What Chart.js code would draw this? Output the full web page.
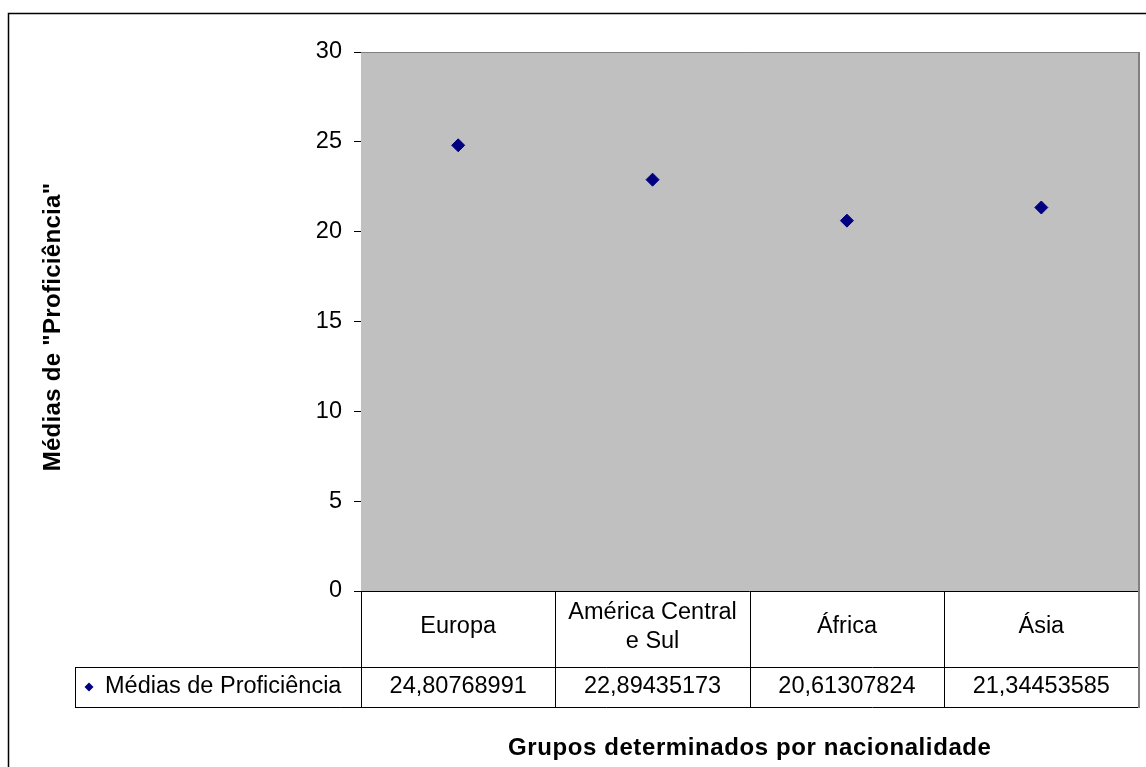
<!DOCTYPE html>
<html lang="pt">
<head>
    <meta charset="UTF-8">
    <title>Médias de Proficiência por nacionalidade</title>
    <script src="https://cdn.jsdelivr.net/npm/chart.js"></script>
    <style>
        html, body { margin: 0; padding: 0; background: #ffffff; }
        #wrap { position: relative; width: 1146px; height: 767px; }
    </style>
</head>
<body>
    <div id="wrap">
        <canvas id="mediasChart"></canvas>
    </div>

    <script>
        // Categories (two-line labels as arrays) and series values
        const grupos = [['Europa'], ['América Central', 'e Sul'], ['África'], ['Ásia']];
        const grupoNomes = ['Europa', 'América Central e Sul', 'África', 'Ásia'];
        const mediasProficiencia = [24.80768991, 22.89435173, 20.61307824, 21.34453585];
        const serieNome = 'Médias de Proficiência';
        const yTicks = [0, 5, 10, 15, 20, 25, 30];

        const FONT = 'Liberation Sans, Arial, sans-serif';
        const NAVY = '#000080';

        function fmtValor(v) {
            return v.toFixed(8).replace('.', ',');
        }

        // Grey plot background, chart frame, data table and axis titles
        const excelFrame = {
            id: 'excelFrame',
            beforeDatasetsDraw(chart) {
                const { ctx, chartArea: a } = chart;
                ctx.save();
                ctx.fillStyle = '#c0c0c0';
                ctx.fillRect(a.left, a.top, a.right - a.left, a.bottom - a.top);
                ctx.strokeStyle = '#808080';
                ctx.lineWidth = 1;
                ctx.beginPath();
                ctx.moveTo(a.left, a.top + 0.5);
                ctx.lineTo(a.right, a.top + 0.5);
                ctx.stroke();
                ctx.restore();
            },
            afterDraw(chart) {
                const { ctx, chartArea: a, scales } = chart;
                const x = scales.x;
                const colW = (a.right - a.left) / grupos.length;
                const row1Bottom = a.bottom + 76;
                const row2Bottom = row1Bottom + 40;
                const legendLeft = 75;

                ctx.save();

                // outer chart frame
                ctx.strokeStyle = '#000';
                ctx.lineWidth = 1.5;
                ctx.beginPath();
                ctx.moveTo(8.5, 780);
                ctx.lineTo(8.5, 13.5);
                ctx.lineTo(1160, 13.5);
                ctx.stroke();

                // table grid
                ctx.lineWidth = 1;
                ctx.strokeStyle = '#000';
                ctx.beginPath();
                ctx.moveTo(a.left, Math.round(a.bottom) + 0.5);
                ctx.lineTo(a.right, Math.round(a.bottom) + 0.5);
                for (let i = 0; i < grupos.length; i++) {
                    const left = Math.round(a.left + i * colW) + 0.5;
                    ctx.moveTo(left, a.bottom);
                    ctx.lineTo(left, row2Bottom);
                }
                ctx.moveTo(legendLeft + 0.5, row1Bottom);
                ctx.lineTo(legendLeft + 0.5, row2Bottom);
                ctx.moveTo(legendLeft, row1Bottom + 0.5);
                ctx.lineTo(a.right, row1Bottom + 0.5);
                ctx.moveTo(legendLeft, row2Bottom + 0.5);
                ctx.lineTo(a.right, row2Bottom + 0.5);
                ctx.stroke();

                // right edge of plot and table
                ctx.strokeStyle = '#808080';
                ctx.lineWidth = 2;
                ctx.beginPath();
                ctx.moveTo(a.right + 0.5, a.top);
                ctx.lineTo(a.right + 0.5, row2Bottom + 1);
                ctx.stroke();

                // category labels and values
                ctx.fillStyle = '#000';
                ctx.font = '23.5px ' + FONT;
                ctx.textAlign = 'center';
                ctx.textBaseline = 'middle';
                const mid1 = (a.bottom + row1Bottom) / 2 - 2;
                const mid2 = (row1Bottom + row2Bottom) / 2;
                grupos.forEach((linhas, i) => {
                    const cx = x.getPixelForValue(i);
                    const lh = 29;
                    const y0 = mid1 - (linhas.length - 1) * lh / 2;
                    linhas.forEach((t, j) => ctx.fillText(t, cx, y0 + j * lh));
                    ctx.fillText(fmtValor(mediasProficiencia[i]), cx, mid2);
                });

                // series legend key
                ctx.textAlign = 'left';
                ctx.fillText(serieNome, 105, mid2);
                ctx.fillStyle = NAVY;
                ctx.beginPath();
                ctx.moveTo(89, mid2 - 4.5);
                ctx.lineTo(93.5, mid2);
                ctx.lineTo(89, mid2 + 4.5);
                ctx.lineTo(84.5, mid2);
                ctx.closePath();
                ctx.fill();

                // axis titles
                ctx.fillStyle = '#000';
                ctx.font = 'bold 24px ' + FONT;
                ctx.textAlign = 'center';
                ctx.letterSpacing = '0.6px';
                ctx.fillText('Grupos determinados por nacionalidade', (a.left + a.right) / 2, 748);
                ctx.letterSpacing = '0.3px';
                ctx.translate(53, 327);
                ctx.rotate(-Math.PI / 2);
                ctx.fillText('Médias de "Proficiência"', 0, 0);

                ctx.restore();
            }
        };

        const ctx = document.getElementById('mediasChart').getContext('2d');
        new Chart(ctx, {
            type: 'line',
            data: {
                labels: grupoNomes,
                datasets: [{
                    label: serieNome,
                    data: mediasProficiencia,
                    showLine: false,
                    pointStyle: 'rectRot',
                    pointRadius: 6.5,
                    pointBorderWidth: 1,
                    backgroundColor: NAVY,
                    borderColor: NAVY
                }]
            },
            options: {
                responsive: true,
                maintainAspectRatio: false,
                animation: false,
                events: [],
                layout: {
                    padding: { left: 301, top: 52, right: 5, bottom: 176 }
                },
                plugins: {
                    legend: { display: false },
                    tooltip: { enabled: false },
                    title: { display: false }
                },
                scales: {
                    x: {
                        type: 'category',
                        display: false,
                        offset: true
                    },
                    y: {
                        min: 0,
                        max: 30,
                        afterFit(scale) { scale.width = 60; },
                        afterBuildTicks(scale) {
                            scale.ticks = yTicks.map(v => ({ value: v }));
                        },
                        border: { display: true, color: '#000', width: 1 },
                        grid: {
                            drawOnChartArea: false,
                            drawTicks: true,
                            tickLength: 7,
                            color: '#000'
                        },
                        ticks: {
                            padding: 12,
                            color: '#000',
                            font: { family: FONT, size: 23.5 }
                        }
                    }
                }
            },
            plugins: [excelFrame]
        });
    </script>
</body>
</html>
